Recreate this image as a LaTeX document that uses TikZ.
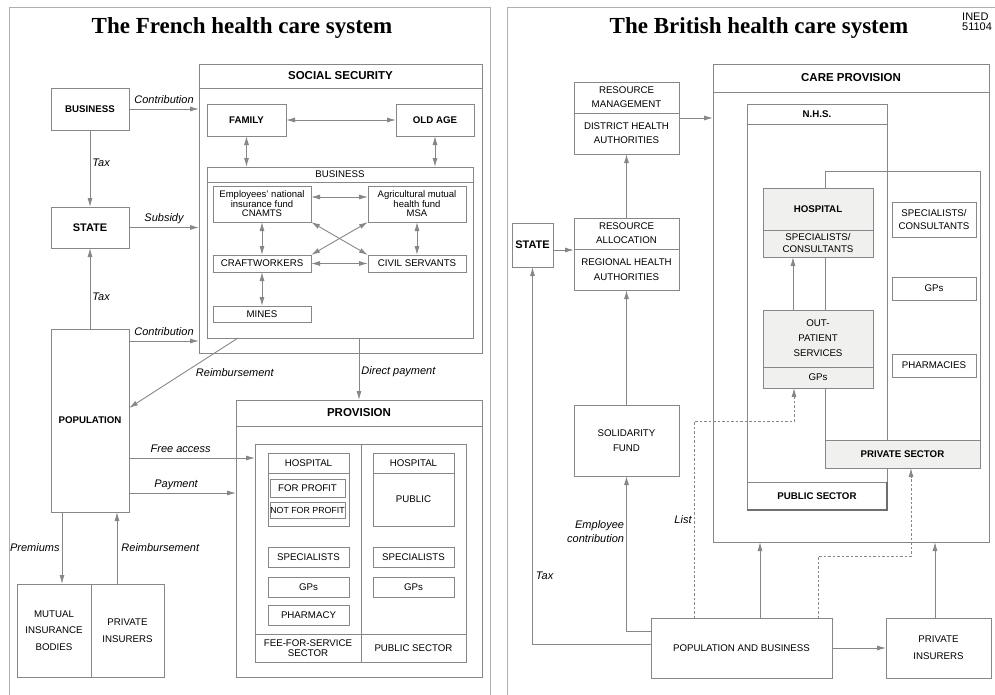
\documentclass[tikz,border=0pt]{standalone}
\usepackage{fontspec}
\setmainfont{Liberation Sans}
\newfontfamily\titlefont{Liberation Serif}
\usetikzlibrary{arrows.meta}
\definecolor{LineGray}{RGB}{135,135,135}
\definecolor{FrameGray}{RGB}{175,175,175}
\definecolor{CellGray}{RGB}{240,240,238}
\definecolor{EdgeGray}{RGB}{110,110,110}

\begin{document}
\begin{tikzpicture}[x=1pt,y=-1pt,
box/.style={rectangle,draw=LineGray,line width=0.9pt,inner sep=1pt,outer sep=0pt,align=center,font=\fontsize{9.7}{11}\selectfont},
sz/.style 2 args={minimum width=#1,minimum height=#2},
bbox/.style={box,font=\bfseries\fontsize{9.7}{11}\selectfont},
headbox/.style={box,font=\bfseries\fontsize{11.5}{13}\selectfont},
cell/.style={fill=CellGray},
lbl/.style={font=\itshape\fontsize{11}{14}\selectfont,inner sep=2pt},
lblabove/.style={lbl,anchor=base,yshift=6pt},
paneltitle/.style={font=\titlefont\bfseries\fontsize{23}{26}\selectfont},
panelframe/.style={draw=FrameGray,line width=0.9pt},
arrow/.style={-{Latex[length=9pt,width=5pt]},draw=LineGray,line width=0.9pt},
darrow/.style={{Latex[length=9pt,width=5pt]}-{Latex[length=9pt,width=5pt]},draw=LineGray,line width=0.9pt},
dasharrow/.style={arrow,dash pattern=on 2.5pt off 2pt}
]
\useasboundingbox (0,0) rectangle (995,694);

% panels
\draw[panelframe] (9,700) -- (9,7) -- (490,7) -- (490,700);
\draw[panelframe] (507,700) -- (507,7) -- (1000,7) -- (1000,700);
\node[paneltitle] (frtitle) at (242,28) {The French health care system};
\node[paneltitle] (brtitle) at (759,28) {The British health care system};
\node[anchor=north west,align=left,inner sep=0pt,font=\fontsize{11}{10}\selectfont] (ined) at (962,13) {INED\\51104};

% ---- France ----
\node[headbox,sz={283}{289}] (socsec) at (340.5,208.5) {};
\node[headbox,sz={283}{24},anchor=north] (socsechead) at (socsec.north) {SOCIAL SECURITY};
\node[bbox,sz={78}{42}] (business) at (90,109) {BUSINESS};
\node[bbox,sz={78}{41},font=\bfseries\fontsize{11}{13}\selectfont] (state) at (90,227.5) {STATE};
\node[bbox,sz={78}{183}] (population) at (90,420.5) {POPULATION};
\node[bbox,sz={79}{32}] (family) at (246.5,120) {FAMILY};
\node[bbox,sz={78}{32}] (oldage) at (435,120) {OLD AGE};
\node[box,sz={266}{171}] (busbox) at (340,252.5) {};
\node[box,sz={266}{15},anchor=north] (bushead) at (busbox.north) {BUSINESS};
\node[box,sz={98}{36},font=\fontsize{9.5}{9.5}\selectfont] (cnamts) at (262,204) {Employees' national\\insurance fund\\CNAMTS};
\node[box,sz={98}{36},font=\fontsize{9.5}{9.5}\selectfont] (msa) at (417,204) {Agricultural mutual\\health fund\\MSA};
\node[box,sz={98}{17}] (craft) at (262,263.5) {CRAFTWORKERS};
\node[box,sz={98}{17}] (civil) at (417,263.5) {CIVIL SERVANTS};
\node[box,sz={98}{16}] (mines) at (262,314) {MINES};

\node[headbox,sz={246}{277}] (provision) at (359,538.5) {};
\node[headbox,sz={246}{26},anchor=north] (provhead) at (provision.north) {PROVISION};
\node[box,sz={106}{218}] (feecol) at (308,553) {};
\node[box,sz={105}{218}] (pubcol) at (413.5,553) {};
\node[box,sz={106}{28},font=\fontsize{9.7}{10}\selectfont] (feesec) at (308,648) {FEE-FOR-SERVICE\\SECTOR};
\node[box,sz={105}{28}] (pubsec) at (413.5,648) {PUBLIC SECTOR};
\node[box,sz={81}{73}] (hospfee) at (308.5,489.5) {};
\node[box,sz={81}{20},anchor=north] (hospfeehead) at (hospfee.north) {HOSPITAL};
\node[box,sz={75}{18}] (forprofit) at (307.5,488) {FOR PROFIT};
\node[box,sz={75}{16},inner xsep=0pt,font=\fontsize{8.8}{10}\selectfont] (notprofit) at (307.5,510) {NOT FOR PROFIT};
\node[box,sz={81}{20}] (specfee) at (308.5,557) {SPECIALISTS};
\node[box,sz={81}{20}] (gpfee) at (308.5,587) {GPs};
\node[box,sz={81}{20}] (pharmacy) at (308.5,615) {PHARMACY};
\node[box,sz={81}{20}] (hosppubhead) at (413.5,463) {HOSPITAL};
\node[box,sz={81}{53},anchor=north] (hosppub) at (hosppubhead.south) {PUBLIC};
\node[box,sz={81}{20}] (specpub) at (413.5,557) {SPECIALISTS};
\node[box,sz={81}{20}] (gppub) at (413.5,587) {GPs};

\node[box,sz={74}{93},font=\fontsize{9.7}{16.5}\selectfont] (mutual) at (54,630.5) {MUTUAL\\INSURANCE\\BODIES};
\node[box,sz={73}{93},font=\fontsize{9.7}{17}\selectfont] (privins) at (127.5,630.5) {PRIVATE\\INSURERS};

% money flows
\draw[arrow] (business.east) -- node[lblabove]{Contribution} (business.east -| socsec.west);
\draw[arrow] (business.south) -- node[lbl,right,pos=0.42]{Tax} (state.north);
\draw[arrow] (state.east) -- node[lblabove]{Subsidy} (state.east -| socsec.west);
\draw[arrow] (population.north) -- node[lbl,right,pos=0.4]{Tax} (state.south);
\coordinate (popc) at ([yshift=-12]population.north east);
\draw[arrow] (popc) -- node[lblabove]{Contribution} (popc -| socsec.west);
\coordinate (reimbsrc) at ([xshift=-102]busbox.south);
\coordinate (reimbdst) at ([yshift=12.5]population.east);
\draw[arrow] (reimbsrc) -- node[lbl,right=10pt]{Reimbursement} (reimbdst);
\coordinate (directsrc) at ([xshift=19]busbox.south);
\draw[arrow] (directsrc) -- node[lbl,right,pos=0.55]{Direct payment} (directsrc |- provision.north);
\coordinate (freesrc) at ([yshift=-37.5]population.east);
\draw[arrow] (freesrc) -- node[lblabove,pos=0.41]{Free access} (freesrc -| feecol.west);
\coordinate (paysrc) at ([yshift=-72.5]population.east);
\draw[arrow] (paysrc) -- node[lblabove,pos=0.44]{Payment} (paysrc -| provision.west);
\coordinate (premsrc) at ([xshift=-28]population.south);
\draw[arrow] (premsrc) -- node[lbl,left]{Premiums} (premsrc |- mutual.north);
\coordinate (reimbup) at ([xshift=-10.5]privins.north);
\draw[arrow] (reimbup) -- node[lbl,right=2pt]{Reimbursement} (reimbup |- population.south);

% links between funds
\draw[darrow] (family.east) -- (oldage.west);
\draw[darrow] (family.south) -- (family.south |- busbox.north);
\draw[darrow] (oldage.south) -- (oldage.south |- busbox.north);
\coordinate (cnamtsc) at ([yshift=7]cnamts.east);
\draw[darrow] (cnamtsc) -- (cnamtsc -| msa.west);
\draw[darrow] (cnamts.south) -- (craft.north);
\draw[darrow] (msa.south) -- (civil.north);
\draw[darrow] (cnamts.south east) -- (civil.north west);
\draw[darrow] (msa.south west) -- (craft.north east);
\draw[darrow] (craft.east) -- (civil.west);
\draw[darrow] (craft.south) -- (mines.north);

% ---- Britain ----
\node[headbox,sz={276}{478}] (careprov) at (851,303) {};
\node[headbox,sz={276}{28},anchor=north] (careprovhead) at (careprov.north) {CARE PROVISION};
\node[box,sz={105}{31},font=\fontsize{9.7}{14}\selectfont] (resmgmt) at (626.5,97.5) {RESOURCE\\MANAGEMENT};
\node[box,sz={105}{41},font=\fontsize{9.7}{14}\selectfont] (dha) at (626.5,133.5) {DISTRICT HEALTH\\AUTHORITIES};
\node[box,sz={105}{31},font=\fontsize{9.7}{14}\selectfont] (resalloc) at (626.5,233.5) {RESOURCE\\ALLOCATION};
\node[box,sz={105}{41},font=\fontsize{9.7}{15}\selectfont] (rha) at (626.5,269.5) {REGIONAL HEALTH\\AUTHORITIES};
\node[bbox,sz={41}{44},font=\bfseries\fontsize{11}{13}\selectfont] (statebr) at (532.5,245) {STATE};
\node[box,sz={105}{71},font=\fontsize{9.7}{15}\selectfont] (solidarity) at (626.5,440.5) {SOLIDARITY\\FUND};

\node[box,sz={140}{406}] (nhs) at (817,307) {};
\node[bbox,sz={140}{20},anchor=north] (nhshead) at (nhs.north) {N.H.S.};
\node[bbox,sz={140}{28},anchor=south] (publicsec) at (nhs.south) {PUBLIC SECTOR};
\draw[draw=EdgeGray,line width=1.2pt] (publicsec.north east) -- (publicsec.south east) -- (publicsec.south west);
\node[box,sz={155}{297}] (privreg) at (902.5,319.5) {};
\node[bbox,cell,sz={155}{28},anchor=south] (privsec) at (privreg.south) {PRIVATE SECTOR};
\node[bbox,cell,sz={110}{42}] (hospbr) at (818,209) {HOSPITAL};
\node[box,cell,sz={110}{27},anchor=north,font=\fontsize{9.7}{12}\selectfont] (specbr) at (hospbr.south) {SPECIALISTS/\\CONSULTANTS};
\node[box,cell,sz={110}{57},font=\fontsize{9.7}{15}\selectfont] (outpat) at (818,338.5) {OUT-\\PATIENT\\SERVICES};
\node[box,cell,sz={110}{21},anchor=north] (gpbr) at (outpat.south) {GPs};
\node[box,sz={84}{35},font=\fontsize{9.7}{13}\selectfont] (specpriv) at (934,219.5) {SPECIALISTS/\\CONSULTANTS};
\node[box,sz={84}{23}] (gppriv) at (934,288.5) {GPs};
\node[box,sz={84}{23}] (pharmpriv) at (934,365.5) {PHARMACIES};

\node[box,sz={181}{60}] (popbus) at (741.5,648) {POPULATION AND BUSINESS};
\node[box,sz={105}{60},font=\fontsize{9.7}{17}\selectfont] (privinsbr) at (938.5,648) {PRIVATE\\INSURERS};

% flows
\coordinate (dhac) at ([yshift=15.5]dha.east);
\draw[arrow] (dhac) -- (dhac -| careprov.west);
\draw[arrow] (resalloc.north) -- (dha.south);
\coordinate (statec) at ([yshift=-5]statebr.east);
\draw[arrow] (statec) -- (statec -| rha.west);
\draw[arrow] (solidarity.north) -- (rha.south);
\draw[arrow] ([xshift=-25]outpat.north) -- ([xshift=-25]specbr.south);
\draw[arrow] (popbus.east) -- (privinsbr.west);
\coordinate (pic) at ([xshift=-3.5]privinsbr.north);
\draw[arrow] (pic) -- (pic |- careprov.south);
\coordinate (pbc) at ([xshift=18.5]popbus.north);
\draw[arrow] (pbc) -- (pbc |- careprov.south);
\draw[dasharrow] ([xshift=76.5]popbus.north) -- ++(0,-62) -| ([xshift=8.5]privsec.south);
\draw[dasharrow] ([xshift=-47.5]popbus.north) -- node[lbl,left]{List} ++(0,-197) -| ([xshift=-24]gpbr.south);
\draw[arrow] ([yshift=17]popbus.west) -| node[lbl,pos=0.82,left,align=right]{Employee\\contribution} (solidarity.south);
\draw[arrow] ([yshift=4]popbus.west) -| node[lbl,pos=0.59,right=1pt]{Tax} (statebr.south);
\end{tikzpicture}
\end{document}
